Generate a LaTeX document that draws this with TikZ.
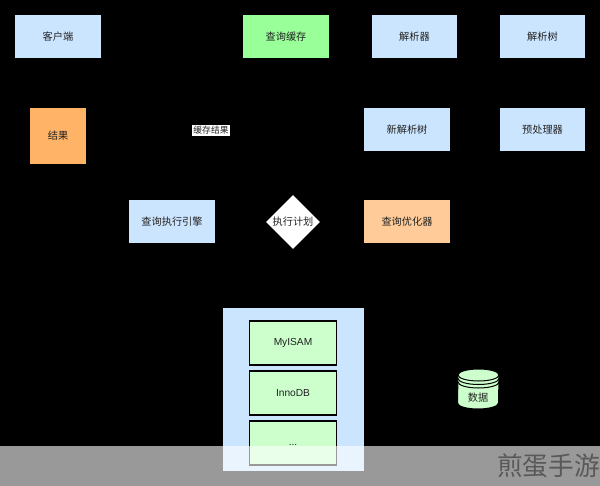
\documentclass[tikz,border=0pt]{standalone}
\usepackage{fontspec}
\setmainfont{Liberation Sans}
\newfontfamily\cjkfont{Noto Sans CJK SC}
\usetikzlibrary{shapes.geometric}
\definecolor{boxblue}{HTML}{CCE5FF}
\definecolor{boxgreen}{HTML}{99FF99}
\definecolor{boxorange}{HTML}{FFB366}
\definecolor{boxpeach}{HTML}{FFCC99}
\definecolor{boxmint}{HTML}{CCFFCC}
\definecolor{labelgray}{HTML}{222222}
\tikzset{
	stepbox/.style = {draw = black, line width = 0.3mm, minimum width = 1.74cm, minimum height = 0.88cm, inner sep = 0, text = labelgray, font = \cjkfont\fontsize{5.8}{7}\selectfont},
	enginebox/.style = {stepbox, fill = boxmint, font = \fontsize{5.8}{7}\selectfont},
}

\begin{document}
\begin{tikzpicture}[x=0.2mm, y=-0.2mm]
		\useasboundingbox (0,0) rectangle (600,486);
		\fill[black] (0,0) rectangle (600,486);
		
		\node[stepbox, fill = boxblue] (client) at (58,36.5) {客户端};
		\node[stepbox, fill = boxgreen] (cache) at (286,36.5) {查询缓存};
		\node[stepbox, fill = boxblue] (parser) at (414.5,36.5) {解析器};
		\node[stepbox, fill = boxblue] (tree) at (542.5,36.5) {解析树};
		
		\node[stepbox, fill = boxorange, minimum width = 1.14cm, minimum height = 1.14cm] (result) at (58,136) {结果};
		\node[stepbox, fill = boxblue] (newtree) at (407,129.5) {新解析树};
		\node[stepbox, fill = boxblue] (preproc) at (542.5,129.5) {预处理器};
		\node[fill = white, inner sep = 0.3mm, text = labelgray, font = \cjkfont\fontsize{5}{6}\selectfont] (cached) at (211,130.5) {缓存结果};
		
		\node[stepbox, fill = boxblue] (executor) at (172,221.5) {查询执行引擎};
		\node[diamond, fill = white, minimum width = 1.08cm, minimum height = 1.08cm, inner sep = 0, text = labelgray, font = \cjkfont\fontsize{5.8}{7}\selectfont] (plan) at (293,222) {执行计划};
		\node[stepbox, fill = boxpeach] (optimizer) at (407,221.5) {查询优化器};
		
		\fill[boxblue] (222.5,308) rectangle (364,471);
		\node[enginebox] (myisam) at (293,343) {MyISAM};
		\node[enginebox] (innodb) at (293,393) {InnoDB};
		\node[enginebox] (other) at (293,443) {\raisebox{-0.8mm}{...}};
		
		% data store
		\filldraw[fill = boxmint, draw = black, line width = 0.2mm] (458,375) arc (180:360:20.5 and 6) -- (498.5,403) arc (0:180:20.5 and 6) -- cycle;
		\draw[line width = 0.2mm] (458,375) arc (180:0:20.5 and 6);
		\draw[line width = 0.2mm] (458,378.5) arc (180:0:20.5 and 6);
		\draw[line width = 0.2mm] (458,382) arc (180:0:20.5 and 6);
		\node[inner sep = 0, text = labelgray, font = \cjkfont\fontsize{5.8}{7}\selectfont] (data) at (478,398) {数据};
		
		% band along the bottom
		\fill[white, fill opacity = 0.6] (0,446) rectangle (600,486);
		\node[inner sep = 0, anchor = east, text = labelgray!75!white, font = \cjkfont\fontsize{14.6}{16}\selectfont] (brand) at (600,466) {煎蛋手游};
		\end{tikzpicture}
\end{document}
